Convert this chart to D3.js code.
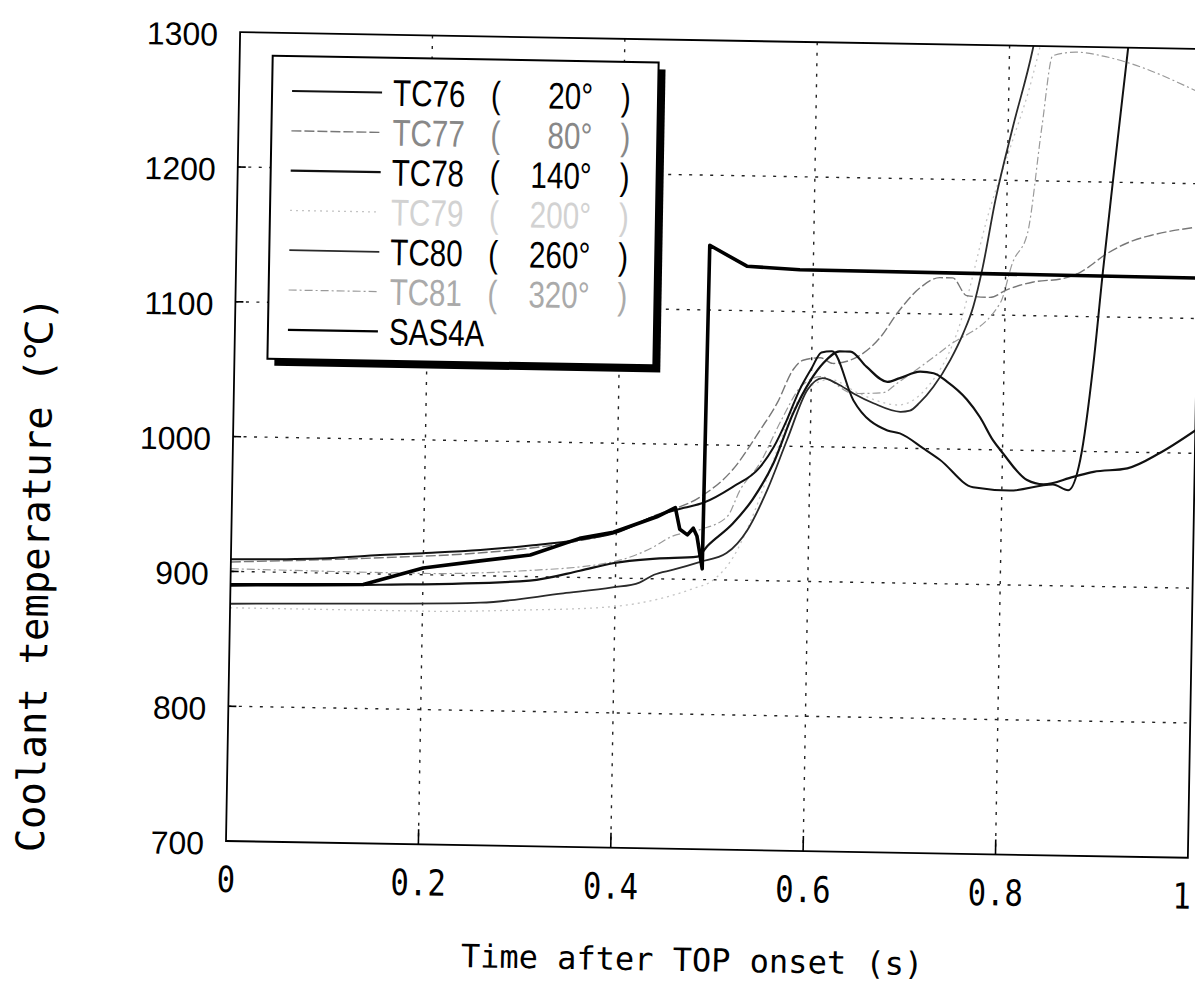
<!DOCTYPE html>
<html><head><meta charset="utf-8">
<script src="https://cdn.jsdelivr.net/npm/d3@7"></script>
<style>body{margin:0;background:#fff}</style>
</head><body>
<svg id="c" width="1195" height="990"></svg>
<script>
// ---- data ----
const seriesNames = ["TC76","TC77","TC78","TC79","TC80","TC81","SAS4A"];
const seriesAngles = ["20°","80°","140°","200°","260°","320°",""];
const xTickValues = [0,0.2,0.4,0.6,0.8,1];
const xTickLabels = ["0","0.2","0.4","0.6","0.8","1"];
const yTickValues = [700,800,900,1000,1100,1200,1300];
const TC76 = [[0,909],[0.1,911],[0.155,914],[0.2,916],[0.259,919],[0.311,923],[0.362,928],[0.397,933],[0.442,947],[0.47,953],[0.49,957],[0.52,969],[0.548,984],[0.562,999],[0.575,1019],[0.588,1042],[0.6,1058],[0.61,1070],[0.621,1071],[0.644,1035],[0.68,1013],[0.693,1011],[0.718,1000],[0.735,992],[0.77,972],[0.808,970],[0.853,975],[0.869,971],[0.881,994],[0.893,1066],[0.901,1133],[0.91,1202],[0.923,1298],[0.93,1350]];
const TC77 = [[0,907],[0.155,912],[0.26,917],[0.31,921],[0.36,927],[0.4,934],[0.44,947],[0.486,961],[0.52,982],[0.548,1012],[0.565,1032],[0.581,1057],[0.591,1064],[0.609,1066],[0.622,1062],[0.647,1067],[0.671,1082],[0.688,1100],[0.711,1119],[0.732,1127],[0.745,1127],[0.76,1114],[0.784,1113],[0.802,1119],[0.829,1125],[0.86,1128],[0.878,1133],[0.905,1147],[0.932,1157],[0.95,1161],[1.0,1168]];
const TC78 = [[0,890],[0.155,892],[0.311,897],[0.363,905],[0.397,911],[0.442,915],[0.485,917],[0.495,925],[0.521,942],[0.541,960],[0.562,987],[0.582,1025],[0.599,1049],[0.612,1062],[0.629,1071],[0.64,1071],[0.657,1060],[0.679,1049],[0.692,1052],[0.713,1057],[0.727,1056],[0.741,1050],[0.762,1037],[0.776,1024],[0.79,1007],[0.8,998],[0.826,978],[0.843,975],[0.874,981],[0.895,985],[0.93,988],[0.964,1000],[1.0,1017]];
const TC79 = [[0,873],[0.2,873],[0.3,875],[0.4,879],[0.45,886],[0.48,893],[0.502,900],[0.522,917],[0.54,945],[0.56,985],[0.58,1025],[0.6,1045],[0.62,1050],[0.65,1040],[0.69,1032],[0.72,1045],[0.75,1085],[0.783,1180],[0.805,1230],[0.82,1265],[0.835,1310]];
const TC80 = [[0,876],[0.155,878],[0.26,880],[0.346,888],[0.397,893],[0.425,897],[0.44,903],[0.46,907],[0.487,913],[0.515,920],[0.536,937],[0.556,967],[0.576,1005],[0.596,1042],[0.612,1051],[0.627,1047],[0.644,1040],[0.665,1033],[0.693,1027],[0.703,1028],[0.713,1034],[0.727,1046],[0.744,1066],[0.757,1086],[0.767,1106],[0.776,1135],[0.788,1185],[0.805,1240],[0.824,1297],[0.83,1320]];
const TC81 = [[0,902],[0.2,901],[0.3,904],[0.397,912],[0.44,924],[0.456,931],[0.487,937],[0.515,947],[0.528,967],[0.548,987],[0.57,1020],[0.59,1045],[0.61,1052],[0.644,1040],[0.675,1041],[0.689,1048],[0.741,1076],[0.795,1109],[0.807,1139],[0.822,1161],[0.835,1240],[0.845,1293],[0.87,1296],[0.9,1293],[0.94,1285],[0.975,1275],[1.0,1267]];
const SAS4A = [[0,890],[0.138,892],[0.2,905],[0.259,911],[0.311,916],[0.362,929],[0.397,934],[0.442,946],[0.461,953],[0.466,937],[0.474,933],[0.48,938],[0.484,932],[0.49,908],[0.492,1148],[0.531,1133],[0.586,1131],[1.0,1130]];

const seriesData = [TC76,TC77,TC78,TC79,TC80,TC81,SAS4A];
const seriesStyle = [
  {c:"#111", w:2.0, d:null, tc:"#000"},
  {c:"#777", w:1.4, d:"10,3", tc:"#888"},
  {c:"#111", w:2.2, d:null, tc:"#000"},
  {c:"#c4c4c4", w:1.3, d:"2,4", tc:"#d2d2d2"},
  {c:"#2a2a2a", w:1.8, d:null, tc:"#000"},
  {c:"#9a9a9a", w:1.2, d:"8,3,2,3", tc:"#aaa"},
  {c:"#000", w:3.6, d:null, tc:"#000"}
];

// ---- layout ----
const W=1195, H=990;
const L=226, R=1188, T=32, B=841;
const svg = d3.select("#c");
svg.append("rect").attr("width",W).attr("height",H).attr("fill","#fff");
const x = d3.scaleLinear().domain([0,1]).range([L,R]);
const y = d3.scaleLinear().domain([700,1300]).range([B,T]);
const g = svg.append("g").attr("transform",`rotate(1,${L},${B})`);

g.append("defs").append("clipPath").attr("id","pc")
  .append("rect").attr("x",L).attr("y",T).attr("width",R-L).attr("height",B-T);

// grid
const grid = g.append("g").attr("stroke","#222").attr("stroke-width",1.4).attr("stroke-dasharray","3,7.5");
grid.selectAll(".gx").data(xTickValues.filter(v=>v>0&&v<1)).enter().append("line")
  .attr("x1",d=>x(d)).attr("x2",d=>x(d)).attr("y1",T).attr("y2",B);
grid.selectAll(".gy").data(yTickValues.filter(v=>v>700&&v<1300)).enter().append("line")
  .attr("y1",d=>y(d)).attr("y2",d=>y(d)).attr("x1",L).attr("x2",R);

// inner ticks
const tk = g.append("g").attr("stroke","#000").attr("stroke-width",1.6);
tk.selectAll(".tx").data(xTickValues.filter(v=>v>0&&v<1)).enter().append("line")
  .attr("x1",d=>x(d)).attr("x2",d=>x(d)).attr("y1",B).attr("y2",B-15);
tk.selectAll(".ty").data(yTickValues.filter(v=>v>700&&v<1300)).enter().append("line")
  .attr("y1",d=>y(d)).attr("y2",d=>y(d)).attr("x1",L).attr("x2",L+8);

// series
const line = d3.line().x(d=>x(d[0])).y(d=>y(d[1])).curve(d3.curveMonotoneX);
const lineLin = d3.line().x(d=>x(d[0])).y(d=>y(d[1]));
const pg = g.append("g").attr("clip-path","url(#pc)");
[3,5,1,4,2,0,6].forEach(i=>{
  const s = seriesStyle[i];
  pg.append("path").datum(seriesData[i])
    .attr("d", i===6 ? lineLin : line)
    .attr("fill","none").attr("stroke",s.c).attr("stroke-width",s.w)
    .attr("stroke-dasharray",s.d).attr("stroke-linejoin","round");
});

// frame
g.append("rect").attr("x",L).attr("y",T).attr("width",R-L).attr("height",B-T)
  .attr("fill","none").attr("stroke","#000").attr("stroke-width",1.8);

// y axis labels
const ya = g.append("g").attr("transform",`translate(${L},0)`)
  .call(d3.axisLeft(y).tickValues(yTickValues).tickSize(0).tickPadding(22).tickFormat(d3.format("d")));
ya.select(".domain").remove();
ya.selectAll("text").attr("font-family","'Liberation Sans', Arial, sans-serif")
  .attr("font-size",32).attr("fill","#000").attr("y",3);

// x axis labels
const xa = g.append("g").attr("transform",`translate(0,${B})`)
  .call(d3.axisBottom(x).tickValues(xTickValues).tickSize(0).tickFormat((d,i)=>xTickLabels[i]));
xa.select(".domain").remove();
xa.selectAll("text").attr("font-family","'DejaVu Sans Mono', monospace")
  .attr("font-size",36).attr("fill","#000").attr("y",51).attr("dy",null)
  .attr("transform",(d,i)=> i===xTickValues.length-1 ? "translate(-6,0) scale(0.85,1)" : "scale(0.85,1)");

// axis titles
g.append("text").attr("transform","translate(694,963)")
  .attr("text-anchor","middle").attr("font-family","'DejaVu Sans Mono', monospace")
  .attr("font-size",32).attr("fill","#000").text("Time after TOP onset (s)");
g.append("text").attr("transform","translate(44,578) rotate(-90)")
  .attr("text-anchor","middle").attr("font-family","'DejaVu Sans Mono', monospace")
  .attr("font-size",39).attr("fill","#000").text("Coolant temperature (℃)");

// legend
const lg = g.append("g");
lg.append("rect").attr("x",266).attr("y",62).attr("width",386).attr("height",303).attr("fill","#000");
lg.append("rect").attr("x",259).attr("y",55).attr("width",386).attr("height",303)
  .attr("fill","#fff").attr("stroke","#000").attr("stroke-width",2);
const lf = "'Liberation Sans', Arial, sans-serif";
function ltext(xp, yp, txt, col, anchor){
  lg.append("text").attr("transform",`translate(${xp},${yp}) scale(0.8,1)`)
    .attr("text-anchor",anchor).attr("font-family",lf).attr("font-size",37)
    .attr("fill",col).text(txt);
}
seriesNames.forEach((n,i)=>{
  const s = seriesStyle[i];
  const cy = 90 + i*39.8;
  lg.append("line").attr("x1",279).attr("x2",369).attr("y1",cy).attr("y2",cy)
    .attr("stroke",s.c).attr("stroke-width",Math.min(s.w,2.2)).attr("stroke-dasharray",s.d);
  ltext(380, cy+13, n, s.tc, "start");
  if (seriesAngles[i]) {
    ltext(478, cy+13, "(", s.tc, "start");
    ltext(580, cy+13, seriesAngles[i], s.tc, "end");
    ltext(608, cy+13, ")", s.tc, "start");
  }
});
</script>
</body></html>
